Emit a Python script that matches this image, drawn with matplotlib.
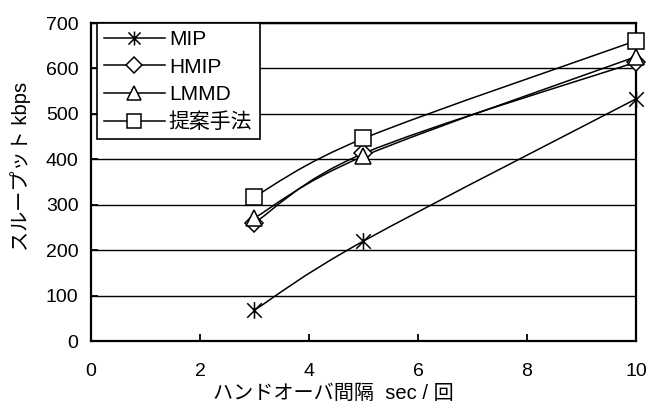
import numpy as np
import matplotlib
matplotlib.use("Agg")
import matplotlib.pyplot as plt
from matplotlib.path import Path
from matplotlib.patches import PathPatch
from matplotlib.lines import Line2D

plt.rcParams["font.family"] = ["Liberation Sans", "Noto Sans CJK JP"]

# data
interval = [3, 5, 10]
mip = [68, 220, 533]
hmip = [260, 413, 614]
lmmd = [271, 407, 626]
teian = [318, 446, 661]

series = [
    ("MIP", mip, "star"),
    ("HMIP", hmip, "D"),
    ("LMMD", lmmd, "^"),
    ("提案手法", teian, "s"),
]

# excel-like star marker: X with a vertical bar
star = Path(
    [(-1, -1), (1, 1), (-1, 1), (1, -1), (0, -1.15), (0, 1.15)],
    [Path.MOVETO, Path.LINETO, Path.MOVETO, Path.LINETO, Path.MOVETO, Path.LINETO],
)


def smooth_path(xs, ys):
    # Catmull-Rom style bezier, same idea as Excel's smoothed line
    pts = np.column_stack([xs, ys]).astype(float)
    verts = [pts[0]]
    codes = [Path.MOVETO]
    n = len(pts)
    for i in range(n - 1):
        p0 = pts[max(i - 1, 0)]
        p1 = pts[i]
        p2 = pts[i + 1]
        p3 = pts[min(i + 2, n - 1)]
        c1 = p1 + (p2 - p0) / 6.0
        c2 = p2 - (p3 - p1) / 6.0
        verts += [c1, c2, p2]
        codes += [Path.CURVE4] * 3
    return Path(verts, codes)


fig = plt.figure(figsize=(6.47, 4.03), dpi=100)
ax = fig.add_axes([0.1406, 0.1538, 0.8424, 0.789])

handles = []
for name, vals, mk in series:
    patch = PathPatch(smooth_path(interval, vals), facecolor="none",
                      edgecolor="black", lw=1.1, zorder=3)
    ax.add_patch(patch)
    if mk == "star":
        ax.plot(interval, vals, linestyle="none", marker=star, markersize=12,
                markeredgecolor="black", markeredgewidth=1.1, zorder=4,
                clip_on=False)
        h = Line2D([], [], color="black", lw=1.1, marker=star, markersize=10,
                   markeredgewidth=1.1)
    else:
        ms = {"D": 9, "^": 11, "s": 11}[mk]
        ax.plot(interval, vals, linestyle="none", marker=mk, markersize=ms,
                markerfacecolor="white", markeredgecolor="black",
                markeredgewidth=1.1, zorder=4, clip_on=False)
        h = Line2D([], [], color="black", lw=1.1, marker=mk,
                   markersize=ms - 1, markerfacecolor="white",
                   markeredgecolor="black", markeredgewidth=1.1)
    handles.append(h)

ax.set_xlim(0, 10)
ax.set_ylim(0, 700)
ax.set_xticks([0, 2, 4, 6, 8, 10])
ax.set_yticks(range(0, 701, 100))
ax.yaxis.grid(True, color="black", lw=1.0)
ax.set_axisbelow(True)
ax.tick_params(direction="in", length=5, width=1.3, labelsize=14)
ax.tick_params(axis="x", pad=16)
ax.tick_params(axis="y", pad=9)
for s in ax.spines.values():
    s.set_linewidth(1.6)
ax.patch.set_facecolor("white")

ax.set_xlabel("ハンドオーバ間隔  sec / 回", fontsize=14.5)
ax.set_ylabel("スループット kbps", fontsize=14.5)
ax.xaxis.set_label_coords(0.444, -0.135)
ax.yaxis.set_label_coords(-0.11, 0.55)

leg = ax.legend(handles, [s[0] for s in series], loc="upper left",
                bbox_to_anchor=(0.011, 1.0), fontsize=15, frameon=True,
                fancybox=False, edgecolor="black", framealpha=1,
                handlelength=2.9, handletextpad=0.2, labelspacing=0.4,
                borderpad=0.35, borderaxespad=0)
leg.get_frame().set_linewidth(1.2)

fig.savefig("out.png", dpi=100)
